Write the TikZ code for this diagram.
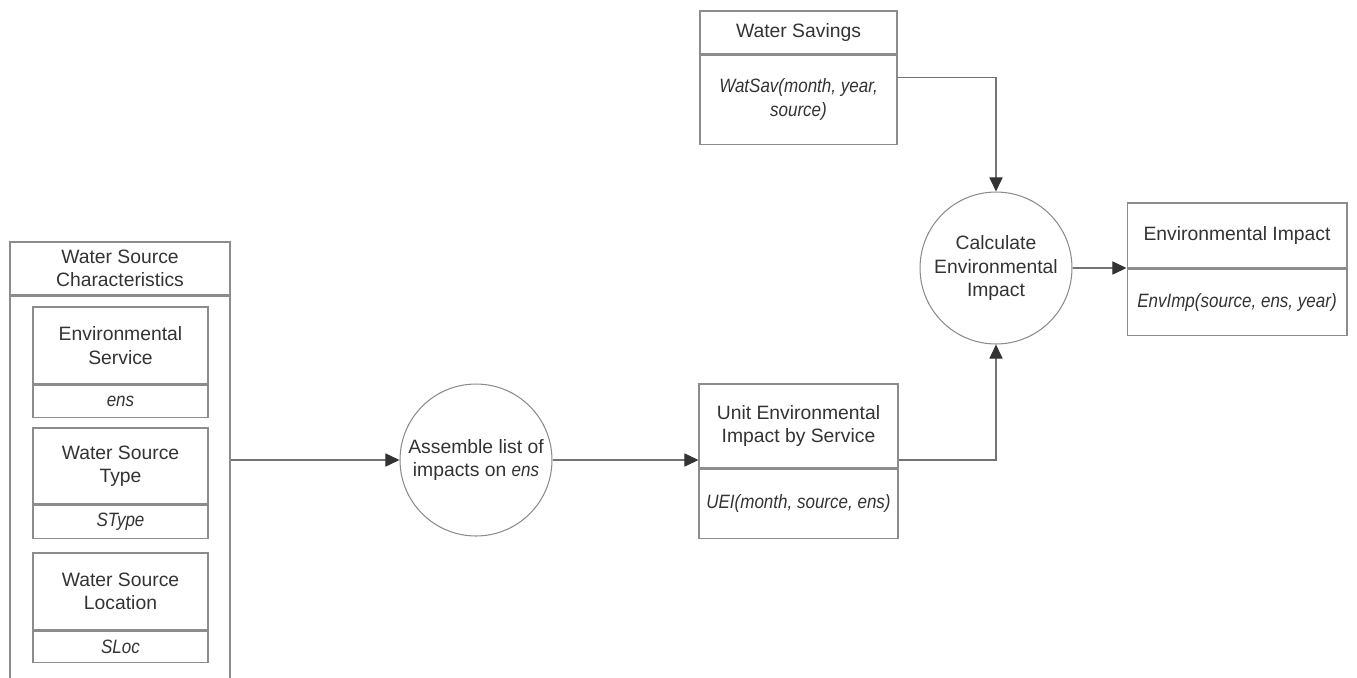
\documentclass[tikz,border=0pt]{standalone}
\usepackage{fontspec}
\setmainfont{Liberation Sans}[ItalicFeatures={FakeStretch=0.88}]
\usetikzlibrary{arrows.meta, positioning, calc}
\definecolor{boxline}{gray}{0.55}
\definecolor{arrline}{gray}{0.45}
\definecolor{txt}{gray}{0.2}

\begin{document}
\begin{tikzpicture}[x=0.02cm, y=-0.02cm,
    every node/.style={font=\fontsize{11}{13.2}\selectfont, text=txt},
    part/.style={draw=boxline, line width=0.6pt, inner sep=0pt, align=center},
    proc/.style={circle, draw=boxline, line width=0.6pt, minimum size=3.04cm, inner sep=0pt, align=center},
    arr/.style={draw=arrline, line width=0.6pt, -{Triangle[length=8pt, width=7.5pt, color=black!80]}}]
    \useasboundingbox (0,0) rectangle (1357,677);

    \node[part, minimum width=4.4cm, minimum height=1.06cm] (wscHead) at (120,268.5) {Water Source\\Characteristics};
    \node[part, minimum width=4.4cm, minimum height=8cm, anchor=north] (wscBody) at (wscHead.south) {};

    \node[part, minimum width=3.5cm, minimum height=1.54cm] (ensHead) at (120.5,345.5) {Environmental\\Service};
    \node[part, minimum width=3.5cm, minimum height=0.64cm, anchor=north] (ensBody) at (ensHead.south) {\textit{ens}};
    \node[part, minimum width=3.5cm, minimum height=1.52cm] (typeHead) at (120.5,466) {Water Source\\Type};
    \node[part, minimum width=3.5cm, minimum height=0.66cm, anchor=north] (typeBody) at (typeHead.south) {\textit{SType}};
    \node[part, minimum width=3.5cm, minimum height=1.54cm] (locHead) at (120.5,591.5) {Water Source\\Location};
    \node[part, minimum width=3.5cm, minimum height=0.62cm, anchor=north] (locBody) at (locHead.south) {\textit{SLoc}};

    \node[proc] (asm) at (476,460) {Assemble list of\\impacts on \textit{ens}};

    \node[part, minimum width=3.98cm, minimum height=1.68cm] (ueiHead) at (798.5,426) {Unit Environmental\\Impact by Service};
    \node[part, minimum width=3.98cm, minimum height=1.38cm, anchor=north] (ueiBody) at (ueiHead.south) {\textit{UEI(month, source, ens)}};

    \node[part, minimum width=3.94cm, minimum height=0.86cm] (wsHead) at (798.5,32.5) {Water Savings};
    \node[part, minimum width=3.94cm, minimum height=1.78cm, anchor=north] (wsBody) at (wsHead.south) {\textit{WatSav(month, year,}\\\textit{source)}};

    \node[proc] (calc) at (996,268) {Calculate\\Environmental\\Impact};

    \node[part, minimum width=4.4cm, minimum height=1.3cm] (envHead) at (1237,235.5) {Environmental Impact};
    \node[part, minimum width=4.4cm, minimum height=1.32cm, anchor=north] (envBody) at (envHead.south) {\textit{EnvImp(source, ens, year)}};

    \draw[arr] (wscBody.east |- asm.west) -- (asm.west);
    \draw[arr] (asm.east) -- (asm.east -| ueiHead.west);
    \draw[arr] (asm.east -| ueiHead.east) -| (calc.south);
    \draw[arr] ($(wsBody.north east)!0.25!(wsBody.south east)$) -| (calc.north);
    \draw[arr] (calc.east) -- (calc.east -| envHead.west);
\end{tikzpicture}
\end{document}
